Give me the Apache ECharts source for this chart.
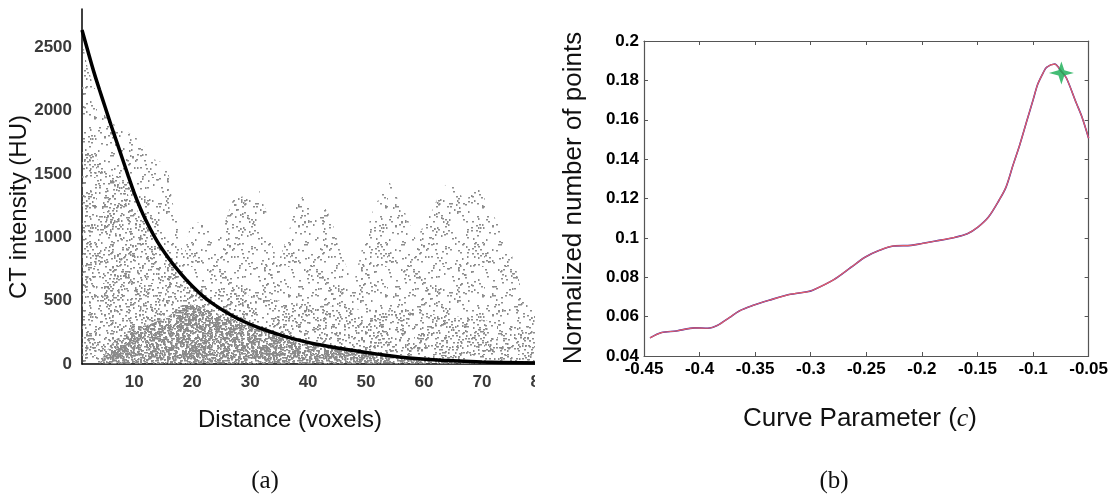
<!DOCTYPE html>
<html>
<head>
<meta charset="utf-8">
<script src="https://cdn.jsdelivr.net/npm/echarts@6/dist/echarts.min.js"></script>
<style>
  html, body { margin: 0; padding: 0; background: #fff; }
  #chart { width: 1111px; height: 498px; }
</style>
</head>
<body>
<div id="chart"></div>
<script>
// (a) CT intensity vs distance: fitted decay curve
var curveX = [1, 2, 3, 4, 5, 6, 7, 8, 9, 10, 11, 12, 14, 16, 18, 20, 22, 24, 26, 29, 32, 35, 38, 41, 47, 52, 58, 64, 70, 80];
var curveY = [2635, 2470, 2310, 2165, 2025, 1885, 1750, 1615, 1480, 1350, 1235, 1135, 965, 830, 715, 615, 530, 462, 405, 333, 278, 232, 192, 160, 112, 78, 45, 27, 16, 7];

// (a) outline of the scattered voxel cloud (upper edge of sparse dots)
var cloudX = [1, 2, 3, 4, 5, 6, 7, 8, 10, 11.5, 13, 15, 15.8, 16.5, 17.3, 18, 18.6, 19.5, 21, 22.5, 24, 25.5, 27, 28.5, 30, 31.5, 32.8, 34, 35, 36.5, 38, 39.4, 40.8, 41.5, 42.5, 44, 45.5, 47, 48, 49.5, 51.2, 52.5, 54, 55.5, 56.5, 58.6, 60, 61.5, 63, 64.4, 66, 67.3, 68.5, 69.6, 71, 72.5, 74, 75, 76.2, 77.1, 79, 80];
var cloudY = [2550, 2330, 2200, 2080, 1960, 1900, 1880, 1850, 1800, 1730, 1620, 1590, 1560, 1300, 1150, 950, 850, 1060, 1120, 1080, 960, 1100, 1290, 1320, 1350, 1380, 1200, 900, 820, 1020, 1260, 1340, 1200, 1150, 1260, 1150, 900, 720, 660, 950, 1220, 1330, 1440, 1300, 1220, 980, 1100, 1220, 1380, 1440, 1340, 1300, 1350, 1390, 1250, 1130, 960, 880, 700, 500, 420, 400];
// upper edge of the moderately dense band
var midX = [1, 4, 8, 12, 16, 18, 20, 25, 30, 35, 40, 45, 50, 55, 60, 65, 70, 75, 80];
var midY = [1750, 1600, 1400, 1100, 850, 700, 620, 580, 540, 500, 470, 450, 430, 420, 400, 380, 350, 300, 250];
// upper edge of the dense core
var coreX = [4, 6, 8, 10, 13, 16, 18, 20, 22, 24, 27, 30, 33, 36, 40, 44, 48, 52, 56, 60, 66, 72, 80];
var coreY = [0, 150, 230, 280, 320, 380, 460, 470, 440, 400, 350, 300, 250, 210, 170, 130, 100, 80, 60, 45, 30, 20, 15];

var aXTicks = [10, 20, 30, 40, 50, 60, 70, 80];
var aYTicks = [0, 500, 1000, 1500, 2000, 2500];

// (b) normalized number of points vs curve parameter
var paramX = [-0.4446, -0.4342, -0.4208, -0.4045, -0.3926, -0.3837, -0.3732, -0.3643, -0.3524, -0.3375, -0.3196, -0.3033, -0.2982, -0.2792, -0.2634, -0.2508, -0.2381, -0.2255, -0.2097, -0.2002, -0.1876, -0.1717, -0.1591, -0.1496, -0.1401, -0.1306, -0.1243, -0.118, -0.112, -0.1053, -0.1, -0.0958, -0.091, -0.0879, -0.0806, -0.0745, -0.07, -0.0611, -0.056, -0.05];
var pointsY = [0.0492, 0.0519, 0.0527, 0.0543, 0.0541, 0.0556, 0.0595, 0.0629, 0.0656, 0.0683, 0.0712, 0.0726, 0.0734, 0.0788, 0.0852, 0.0903, 0.0937, 0.0959, 0.0962, 0.0971, 0.0984, 0.1001, 0.1021, 0.1055, 0.1106, 0.1191, 0.1258, 0.137, 0.1472, 0.160, 0.170, 0.178, 0.1837, 0.1866, 0.1883, 0.1845, 0.1812, 0.1685, 0.1614, 0.1506];
var starX = [-0.0745];
var starY = [0.1838];

function zip(xs, ys) {
  return xs.map(function (x, i) { return [x, ys[i]]; });
}

// speckle texture (fill pattern only) for the voxel cloud
function hash(n) {
  var s = Math.sin(n * 12.9898) * 43758.5453;
  return s - Math.floor(s);
}
function speckle(w, h, n, color, seed) {
  var c = document.createElement('canvas');
  c.width = w; c.height = h;
  var g = c.getContext('2d');
  g.fillStyle = color;
  for (var i = 1; i <= n; i++) {
    var x = Math.floor(hash(i + seed) * w);
    var y = Math.floor(hash(i + seed + 0.5) * h);
    if (i % 3 === 0) g.fillRect(x, y, 1.5, 2);
    else g.fillRect(x, y, 2, 1.5);
  }
  return c;
}

var sparseTex = speckle(97, 89, 330, '#8c8c8c', 11);
var midTex = speckle(83, 71, 260, '#8a8a8a', 517);
var coreTex = speckle(71, 61, 1100, '#8a8a8a', 2203);

var labelB = { color: '#000', fontSize: 17, fontWeight: 'bold', fontFamily: 'Liberation Sans, Arial' };
var fmt2 = function (v) { return String(+v.toFixed(2)); };
var labelA = { margin: 10, color: '#3a3a3a', fontSize: 17, fontWeight: 'bold', fontFamily: 'Liberation Sans, Arial', formatter: function (v) { return String(v); } };

var chart = echarts.init(document.getElementById('chart'), null, { renderer: 'canvas' });

chart.setOption({
  backgroundColor: '#fff',
  animation: false,
  grid: [
    { left: 82, top: 9, width: 458, height: 355 },
    { left: 644, top: 41, width: 445, height: 315 }
  ],
  xAxis: [
    {
      type: 'value', gridIndex: 0, min: 1, max: 80,
      axisLine: { lineStyle: { color: '#000', width: 1.5 } },
      axisTick: { show: false },
      splitLine: { show: false },
      axisLabel: Object.assign({ customValues: aXTicks }, labelA)
    },
    {
      type: 'value', gridIndex: 1, min: -0.45, max: -0.05, interval: 0.05,
      axisLine: { onZero: false, lineStyle: { color: '#555', width: 1.2 } },
      axisTick: { inside: true, length: 4, lineStyle: { color: '#555' } },
      splitLine: { show: false },
      axisLabel: Object.assign({ margin: 5, formatter: fmt2 }, labelB)
    },
    {
      type: 'value', gridIndex: 1, position: 'top', min: -0.45, max: -0.05, interval: 0.05,
      axisLine: { onZero: false, lineStyle: { color: '#555', width: 1.2 } },
      axisTick: { inside: true, length: 4, lineStyle: { color: '#555' } },
      splitLine: { show: false },
      axisLabel: { show: false }
    }
  ],
  yAxis: [
    {
      type: 'value', gridIndex: 0, min: 0, max: 2800,
      axisLine: { show: true, lineStyle: { color: '#000', width: 1.5 } },
      axisTick: { show: false },
      splitLine: { show: false },
      axisLabel: Object.assign({ customValues: aYTicks }, labelA)
    },
    {
      type: 'value', gridIndex: 1, min: 0.04, max: 0.2, interval: 0.02,
      axisLine: { show: true, onZero: false, lineStyle: { color: '#555', width: 1.2 } },
      axisTick: { show: true, inside: true, length: 4, lineStyle: { color: '#555' } },
      splitLine: { show: false },
      axisLabel: Object.assign({ margin: 5, formatter: fmt2 }, labelB)
    },
    {
      type: 'value', gridIndex: 1, position: 'right', min: 0.04, max: 0.2, interval: 0.02,
      axisLine: { show: true, onZero: false, lineStyle: { color: '#555', width: 1.2 } },
      axisTick: { show: true, inside: true, length: 4, lineStyle: { color: '#555' } },
      splitLine: { show: false },
      axisLabel: { show: false }
    }
  ],
  series: [
    {
      type: 'line', xAxisIndex: 0, yAxisIndex: 0, data: zip(cloudX, cloudY),
      showSymbol: false, lineStyle: { width: 0, opacity: 0 },
      areaStyle: { color: { image: sparseTex, repeat: 'repeat' }, opacity: 1 }, z: 1
    },
    {
      type: 'line', xAxisIndex: 0, yAxisIndex: 0, data: zip(midX, midY), smooth: 0.4,
      showSymbol: false, lineStyle: { width: 0, opacity: 0 },
      areaStyle: { color: { image: midTex, repeat: 'repeat' }, opacity: 1 }, z: 1
    },
    {
      type: 'line', xAxisIndex: 0, yAxisIndex: 0, data: zip(coreX, coreY), smooth: 0.4,
      showSymbol: false, lineStyle: { width: 0, opacity: 0 },
      areaStyle: { color: { image: coreTex, repeat: 'repeat' }, opacity: 1 }, z: 1
    },
    {
      type: 'line', xAxisIndex: 0, yAxisIndex: 0, data: zip(curveX, curveY), smooth: 0.4,
      showSymbol: false, lineStyle: { color: '#000', width: 3.5 }, z: 3
    },
    {
      type: 'line', xAxisIndex: 1, yAxisIndex: 1, data: zip(paramX, pointsY), smooth: 0.3,
      showSymbol: false, lineStyle: { color: '#3a2fb0', width: 1.6 }, z: 3
    },
    {
      type: 'line', xAxisIndex: 1, yAxisIndex: 1, data: zip(paramX, pointsY), smooth: 0.3,
      showSymbol: false, lineStyle: { color: '#e35d66', width: 1.2 }, z: 4
    },
    {
      type: 'scatter', xAxisIndex: 1, yAxisIndex: 1, data: zip(starX, starY),
      symbol: 'path://M0,-11 L2.6,-2.6 L11,0 L2.6,2.6 L0,11 L-2.6,2.6 L-11,0 L-2.6,-2.6 Z',
      symbolSize: [25, 23], itemStyle: { color: '#15ad52' }, z: 5
    }
  ],
  graphic: [
    // panel (a) is cropped on the right in the source figure
    { type: 'rect', z: 100, shape: { x: 535, y: 0, width: 22, height: 400 }, style: { fill: '#fff' } },
    { type: 'text', z: 101, x: 19, y: 207, rotation: Math.PI / 2,
      style: { text: 'CT intensity (HU)', fontSize: 24, fontFamily: 'Liberation Sans, Arial', fill: '#111', align: 'center', verticalAlign: 'middle' } },
    { type: 'text', z: 101, x: 290, y: 420,
      style: { text: 'Distance (voxels)', fontSize: 24, fontFamily: 'Liberation Sans, Arial', fill: '#111', align: 'center', verticalAlign: 'middle' } },
    { type: 'text', z: 101, x: 265, y: 481,
      style: { text: '(a)', fontSize: 25, fontFamily: 'Liberation Serif, serif', fill: '#111', align: 'center', verticalAlign: 'middle' } },
    { type: 'text', z: 101, x: 574, y: 198, rotation: Math.PI / 2,
      style: { text: 'Normalized number of points', fontSize: 26, fontFamily: 'Liberation Sans, Arial', fill: '#111', align: 'center', verticalAlign: 'middle' } },
    { type: 'text', z: 101, x: 860, y: 419,
      style: { text: 'Curve Parameter ({it|c})', fontSize: 26, fontFamily: 'Liberation Sans, Arial', fill: '#111', align: 'center', verticalAlign: 'middle',
        rich: { it: { fontSize: 26, fontFamily: 'Liberation Serif, serif', fontStyle: 'italic', fill: '#111' } } } },
    { type: 'text', z: 101, x: 834, y: 481,
      style: { text: '(b)', fontSize: 25, fontFamily: 'Liberation Serif, serif', fill: '#111', align: 'center', verticalAlign: 'middle' } }
  ]
});
</script>
</body>
</html>
